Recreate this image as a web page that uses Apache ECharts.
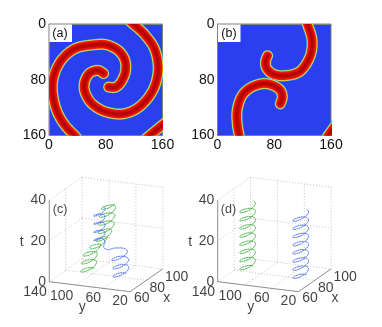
<!DOCTYPE html>
<html><head><meta charset="utf-8">
<script src="https://cdn.jsdelivr.net/npm/echarts@6/dist/echarts.min.js"></script>
<style>html,body{margin:0;padding:0;background:#fff}#c{width:382px;height:327px}</style>
</head><body><div id="c"></div>
<script>
// Ridge centre lines of the excited wave fronts, panels (a) and (b) : [x, y]
const spiralA1 = [[77,71],[69,66.6],[57.4,70.4],[50.4,82.4],[50.4,96.8],[59.8,113.5],[78.6,125.5],[104.5,128.9],[128,118.3],[146.8,94.4],[153.9,65.6],[149.2,36.9],[135,15.3],[118.6,0],[109,-8.6]];
const spiralA2 = [[84.2,90.5],[94.1,90.5],[102.1,82.4],[107.8,68],[106.8,51.3],[97.4,37.8],[80.9,29.7],[64.5,29.7],[38.6,34.5],[19.8,48.9],[8,70.4],[4.7,94.4],[10.4,123.1],[22.1,144.7],[36.2,160],[43,168]];
const spiralA3 = [[135,166],[149,154],[165,141]];
const spiralB1 = [[70.6,45.5],[67.8,53.6],[69.2,63.2],[78.6,71.9],[95,74.2],[116.2,68],[130.4,46.5],[133.2,22.5],[126.6,0],[123.3,-11]];
const spiralB2 = [[88.5,114.5],[91.3,104.9],[88,94.4],[76.2,87.2],[62.1,85.7],[45.6,92],[33.9,103.9],[27.8,123.1],[27.8,142.3],[30.6,160],[32.5,168.6]];
const spiralB3 = [[152,166],[161,153],[168,143]];
const heatTicks = [0, 80, 160];
const tTicks = [0, 20, 40];
const yTicks = [140, 100, 60, 20];
const xTicks = [60, 80, 100];

// Tip trajectories, panel (c)
const greenCx = [87,85,80,75,73,75,80,85, 87,85,80,75,73,75,80,85, 87,85,80,75,73,75,80,85, 87,85,80,75,73,75,80,85, 87,85,80,75,73,75,80,85, 87,85,80,75,73,75,80,85, 87,85,80,75,73,75,80,85, 87,85,80,75,73,75,80,85, 87,85,80,75,73,75,80];
const greenCy = [106,111.7,114,111.7,106,100.3,98,100.3, 105,110.7,113,110.7,105,99.3,97,99.3, 103,108.5,111,108,102,96.5,94,95, 96,100,102,98,92,86,84,86, 87,91,92,89,84,78,76,78, 81,86,88,86,80,74,72,74, 79,85,87,85,79,73,71,73, 78,84,86,84,78,72,70,72, 76,81,83,81,75,69,67];
const greenCt = [0.5,1,1.5,2,2.5,3,3.5,4, 4.5,5,5.5,6,6.5,7,7.5,8, 8.5,9,9.5,10,10.5,11,11.5,12, 12.5,13,13.5,14,14.5,15,15.5,16, 16.5,17,17.5,18,18.5,19,19.5,20, 20.5,21,21.5,22,22.5,23,23.5,24, 24.5,25,25.5,26,26.5,27,27.5,28, 28.5,29,29.5,30,30.5,31,31.5,32, 32.5,33,33.5,34,34.5,35,35.5];
const blueCx = [87,85,80,75,73,75,80,85, 87,85,80,75,73,75,80,85, 87,85,80,75,73,75,80,85, 87,85,82,78,76,76,79,82, 85,83.5,80,76.5,75,76.5,80,83.5, 85,83.5,80,76.5,75,76.5,80,83.5, 85,83.5,80,76.5,75,76.5,80,83.5, 85,83.5,80,76.5,75,76.5,80,83.5, 85];
const blueCy = [58,63.7,66,63.7,58,52.3,50,52.3, 58,63.7,66,63.7,58,52.3,50,52.3, 60,65.7,68,65.7,60,54.3,52,54.3, 62,68,72,72,72,78,82,84, 90,94.2,96,94.2,90,85.8,84,85.8, 90,94.2,96,94.2,90,85.8,84,85.8, 90,94.2,96,94.2,90,85.8,84,85.8, 90,94.2,96,94.2,90,85.8,84,85.8, 90];
const blueCt = [0,0.5,1,1.5,2,2.5,3,3.5, 4,4.5,5,5.5,6,6.5,7,7.5, 8,8.5,9,9.5,10,10.5,11,11.5, 12,12.5,13,13.5,14,14.5,15,15.5, 16,16.5,17,17.5,18,18.5,19,19.5, 20,20.5,21,21.5,22,22.5,23,23.5, 24,24.5,25,25.5,26,26.5,27,27.5, 28,28.5,29,29.5,30,30.5,31,31.5, 32];

// Tip trajectories, panel (d)
const greenDx = [87,85,80,75,73,75,80,85, 87,85,80,75,73,75,80,85, 87,85,80,75,73,75,80,85, 87,85,80,75,73,75,80,85, 87,85,80,75,73,75,80,85, 87,85,80,75,73,75,80,85, 87,85,80,75,73,75,80,85, 87,85,80,75,73,75,80,85, 87];
const greenDy = [120,125.7,128,125.7,120,114.3,112,114.3, 120,125.7,128,125.7,120,114.3,112,114.3, 120,125.7,128,125.7,120,114.3,112,114.3, 120,125.7,128,125.7,120,114.3,112,114.3, 120,125.7,128,125.7,120,114.3,112,114.3, 120,125.7,128,125.7,120,114.3,112,114.3, 120,125.7,128,125.7,120,114.3,112,114.3, 120,125.7,128,125.7,120,114.3,112,114.3, 120];
const greenDt = [1,1.5,2,2.5,3,3.5,4,4.5, 5,5.5,6,6.5,7,7.5,8,8.5, 9,9.5,10,10.5,11,11.5,12,12.5, 13,13.5,14,14.5,15,15.5,16,16.5, 17,17.5,18,18.5,19,19.5,20,20.5, 21,21.5,22,22.5,23,23.5,24,24.5, 25,25.5,26,26.5,27,27.5,28,28.5, 29,29.5,30,30.5,31,31.5,32,32.5, 33];
const blueDx = greenDx;
const blueDy = [41,46.7,49,46.7,41,35.3,33,35.3, 41,46.7,49,46.7,41,35.3,33,35.3, 41,46.7,49,46.7,41,35.3,33,35.3, 41,46.7,49,46.7,41,35.3,33,35.3, 41,46.7,49,46.7,41,35.3,33,35.3, 41,46.7,49,46.7,41,35.3,33,35.3, 41,46.7,49,46.7,41,35.3,33,35.3, 41,46.7,49,46.7,41,35.3,33,35.3, 41];
const blueDt = [0,0.5,1,1.5,2,2.5,3,3.5, 4,4.5,5,5.5,6,6.5,7,7.5, 8,8.5,9,9.5,10,10.5,11,11.5, 12,12.5,13,13.5,14,14.5,15,15.5, 16,16.5,17,17.5,18,18.5,19,19.5, 20,20.5,21,21.5,22,22.5,23,23.5, 24,24.5,25,25.5,26,26.5,27,27.5, 28,28.5,29,29.5,30,30.5,31,31.5, 32];

const FONT = '"Liberation Sans", Arial, sans-serif';
const BLUE = '#2a40ee';
function proj(x, y, t, off) {
  return [off + 49.3 + (140 - y) * 0.6725 + (x - 60) * 0.82,
          281.7 + (140 - y) * 0.0833 - (x - 60) * 0.57 - t * 2.04];
}
// Catmull-Rom drawing path through pixel points
function curve(p) {
  const out = [];
  for (let i = 0; i < p.length - 1; i++) {
    const a = p[Math.max(i - 1, 0)], b = p[i], c = p[i + 1], d = p[Math.min(i + 2, p.length - 1)];
    for (let k = 0; k < 8; k++) {
      const s = k / 8, s2 = s * s, s3 = s2 * s;
      out.push([0, 1].map(j => 0.5 * (2 * b[j] + (c[j] - a[j]) * s + (2 * a[j] - 5 * b[j] + 4 * c[j] - d[j]) * s2 + (3 * b[j] - a[j] - 3 * c[j] + d[j]) * s3)));
    }
  }
  out.push(p[p.length - 1]);
  return out;
}
const rings = [
  [11.4, '#2e9ce0'], [10.7, '#70dca0'], [10, '#e4e448'], [9, '#f47a10'], [8.2, '#ea1408'], [5.4, '#d40c06'], [3, '#b40404']
];
const series = [];
function wave(pts, idx) {
  series.push({
    type:'custom', coordinateSystem:'cartesian2d', xAxisIndex:idx, yAxisIndex:idx, clip:true, silent:true,
    data:[[pts[0][0], pts[0][1]]],
    renderItem(params, api) {
      const path = curve(pts.map(q => api.coord(q)));
      return { type:'group', children: rings.map(([w, c]) => ({
        type:'polyline', shape:{ points:path },
        style:{ fill:null, stroke:c, lineWidth:w, lineCap:'round', lineJoin:'round' } })) };
    }
  });
}
wave(spiralA1, 0); wave(spiralA2, 0); wave(spiralA3, 0);
wave(spiralB1, 1); wave(spiralB2, 1); wave(spiralB3, 1);

function seg(off, a, b) { return [proj(a[0], a[1], a[2], off), proj(b[0], b[1], b[2], off), ['-', '-']]; }
function frame(off) {
  let dots = [], solid = [];
  dots.push(...seg(off, [100,140,40], [60,140,40]), ...seg(off, [100,140,40], [100,20,40]));
  dots.push(...seg(off, [100,140,40], [100,140,0]), ...seg(off, [100,20,40], [100,20,0]));
  dots.push(...seg(off, [100,140,0], [60,140,0]), ...seg(off, [100,140,0], [100,20,0]));
  dots.push(...seg(off, [100,140,20], [60,140,20]), ...seg(off, [100,140,20], [100,20,20]));
  [100, 60].forEach(y => { dots.push(...seg(off, [100,y,40], [100,y,0]), ...seg(off, [100,y,0], [60,y,0])); });
  dots.push(...seg(off, [80,140,40], [80,140,0]), ...seg(off, [80,140,0], [80,20,0]));
  solid.push(...seg(off, [60,140,40], [60,140,0]), ...seg(off, [60,140,0], [60,20,0]), ...seg(off, [60,20,0], [100,20,0]));
  series.push({ type:'line', xAxisIndex:2, yAxisIndex:2, data:dots, symbol:'none', silent:true, connectNulls:false,
    lineStyle:{ width:0.8, color:'#b4b4b4', type:[1,2] } });
  series.push({ type:'line', xAxisIndex:2, yAxisIndex:2, data:solid, symbol:'none', silent:true, connectNulls:false,
    lineStyle:{ width:0.8, color:'#707070' } });
}
function helix(xs, ys, ts, off, color) {
  const pts = xs.map((x, i) => proj(x, ys[i], ts[i], off));
  series.push({ type:'custom', coordinateSystem:'cartesian2d', xAxisIndex:2, yAxisIndex:2, silent:true,
    data:[pts[0]],
    renderItem(params, api) {
      return { type:'polyline', shape:{ points:curve(pts.map(q => api.coord(q))) },
        style:{ fill:null, stroke:color, lineWidth:1, lineDash:[1.8,0.5] } };
    } });
}
const GREEN = '#2aa82a', LINE_BLUE = '#3a5cf0';
frame(0); frame(168.4);
helix(greenCx, greenCy, greenCt, 0, GREEN);
helix(blueCx, blueCy, blueCt, 0, LINE_BLUE);
helix(greenDx, greenDy, greenDt, 168.4, GREEN);
helix(blueDx, blueDy, blueDt, 168.4, LINE_BLUE);

const textPts = [];
function txt(s, x, y, align) { textPts.push({ value:[x, y], label:{ show:true, formatter:s, position:'inside', align:align||'center', verticalAlign:'middle', fontFamily:FONT, fontSize:14, color:'#111' } }); }
[0, 168.4].forEach((o, i) => {
  tTicks.forEach(t => txt(String(t), o + 46, proj(60,140,t,0)[1], 'right'));
  yTicks.forEach((v, k) => txt(String(v), o + [35, 61.7, 93.3, 120][k], [291.7, 295.7, 297.7, 301][k]));
  xTicks.forEach((v, k) => txt(String(v), o + [141.7, 157.3, 176.7][k], [298, 287.7, 276.7][k]));
  txt('y', o + 82.3, 306.7); txt('x', o + 166.7, 298.3); txt('t', o + 21.7, 241.7);
  textPts.push({ value:[o + 60, 210], label:{ show:true, formatter:['(c)','(d)'][i], position:'inside', align:'center', verticalAlign:'middle', fontFamily:FONT, fontSize:12.5, color:'#111' } });
});
series.push({ type:'scatter', xAxisIndex:2, yAxisIndex:2, symbolSize:1, itemStyle:{ color:'transparent' }, data:textPts, silent:true, z:5 });

function heatAxis(type, idx, inv) {
  return { type:'value', gridIndex:idx, min:0, max:160, interval:80, inverse:inv,
    axisLine:{ show:true, lineStyle:{ color:'#808080', width:1 } },
    axisTick:{ show:false }, splitLine:{ show:false },
    axisLabel:{ fontFamily:FONT, fontSize:14, color:'#111', margin:3, showMinLabel:true, showMaxLabel:true,
      hideOverlap:false, customValues:heatTicks } };
}
const chart = echarts.init(document.getElementById('c'), null, { renderer:'canvas' });
chart.setOption({
  animation:false, backgroundColor:'#fff',
  grid:[
    { left:49, top:24, width:113.5, height:111.5, show:true, backgroundColor:BLUE, borderColor:'#808080', borderWidth:1 },
    { left:217.5, top:24, width:113.5, height:111.5, show:true, backgroundColor:BLUE, borderColor:'#808080', borderWidth:1 },
    { left:0, top:0, width:382, height:327 }
  ],
  xAxis:[ heatAxis('x',0,false), heatAxis('x',1,false),
    { type:'value', gridIndex:2, min:0, max:382, show:false } ],
  yAxis:[ heatAxis('y',0,true), heatAxis('y',1,true),
    { type:'value', gridIndex:2, min:0, max:327, inverse:true, show:false } ],
  series,
  graphic:[
    { type:'rect', shape:{ x:49.5, y:24.5, width:22.5, height:17.5 }, style:{ fill:'#fff' }, z:100 },
    { type:'text', x:60, y:34, style:{ text:'(a)', font:'12.5px '+FONT, fill:'#111', textAlign:'center', textVerticalAlign:'middle' }, z:101 },
    { type:'rect', shape:{ x:218, y:24.5, width:22.5, height:17.5 }, style:{ fill:'#fff' }, z:100 },
    { type:'text', x:229, y:34, style:{ text:'(b)', font:'12.5px '+FONT, fill:'#111', textAlign:'center', textVerticalAlign:'middle' }, z:101 }
  ]
});
</script></body></html>
